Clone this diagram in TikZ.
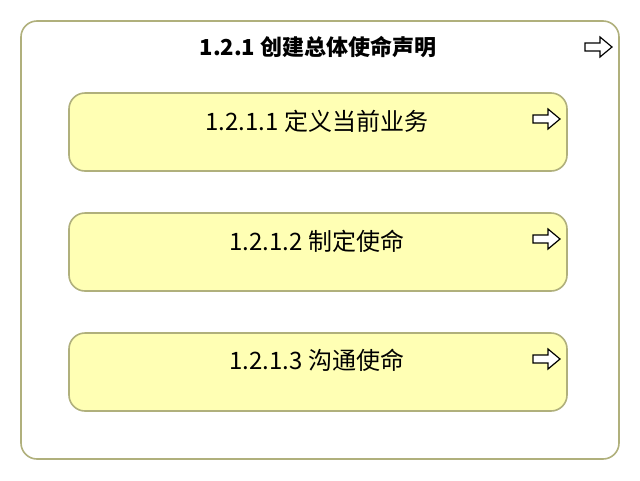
\documentclass[tikz,border=0pt]{standalone}
\usepackage{fontspec}
\newfontfamily\cjk{Noto Sans CJK SC}
\definecolor{edge}{HTML}{B0B07C}
\definecolor{pale}{HTML}{FFFFB4}
\tikzset{
  outerbox/.style={draw=edge, line width=1.6pt, rounded corners=16pt, fill=white},
  innerbox/.style={draw=edge, line width=1.6pt, rounded corners=16pt, fill=pale},
  lbl/.style={font=\cjk\fontsize{24}{28}\selectfont, text=black, inner sep=0pt},
  hollowarrow/.pic={\draw[line width=1.2pt, line join=miter, fill=white]
     (0,-4) -- (15,-4) -- (15,-10) -- (27,0) -- (15,10) -- (15,4) -- (0,4) -- cycle;}
}
\begin{document}
\begin{tikzpicture}[x=1pt,y=-1pt]
\useasboundingbox (0,0) rectangle (640,480);
\draw[outerbox] (21,21) rectangle (619,459);
\node[lbl, font=\cjk\bfseries\fontsize{22}{26}\selectfont] (t0) at (318,47) {1.2.1 创建总体使命声明};
\pic at (585,47) {hollowarrow};
\draw[innerbox] (69,93) rectangle (567,171);
\node[lbl] (t1) at (317,121) {1.2.1.1 定义当前业务};
\pic at (533,119) {hollowarrow};
\draw[innerbox] (69,213) rectangle (567,291);
\node[lbl] (t2) at (317,241) {1.2.1.2 制定使命};
\pic at (533,239) {hollowarrow};
\draw[innerbox] (69,333) rectangle (567,411);
\node[lbl] (t3) at (317,360) {1.2.1.3 沟通使命};
\pic at (533,359) {hollowarrow};
\end{tikzpicture}
\end{document}
